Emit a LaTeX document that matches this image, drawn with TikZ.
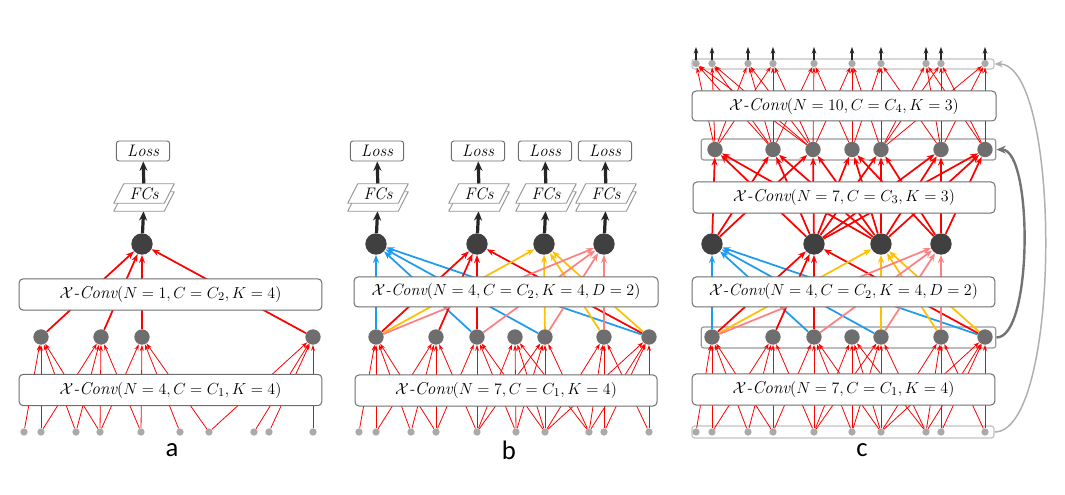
\documentclass[tikz,border=0pt]{standalone}
\usepackage{fontspec}
\newfontfamily\lblfont{Carlito}
\usetikzlibrary{arrows.meta}
\definecolor{inpc}{RGB}{170,170,170}
\definecolor{midc}{RGB}{110,110,110}
\definecolor{drkc}{RGB}{64,64,64}
\definecolor{boxc}{RGB}{110,110,110}
\definecolor{fcc}{RGB}{150,150,150}
\definecolor{grc}{RGB}{195,195,195}
\definecolor{dgc}{RGB}{115,115,115}
\definecolor{lgc}{RGB}{175,175,175}
\definecolor{bluec}{RGB}{30,155,240}
\definecolor{yelc}{RGB}{255,192,0}
\definecolor{pinkc}{RGB}{255,128,128}
\newcommand\xconv[1]{$\mathcal{X}$\textit{-}$\mathit{Conv}(#1)$}
\newcommand\fcshape[1]{%
  \filldraw[fcpath] (#1.south west) -- ([xshift=-7.5pt]#1.south east) -- (#1.north east) -- ([xshift=7.5pt]#1.north west) -- cycle;}
\pgfdeclarelayer{bg}
\pgfdeclarelayer{edges}
\pgfsetlayers{bg,edges,main}
\begin{document}
\begin{tikzpicture}[x=0.75pt,y=-0.75pt,
  inp/.style={circle,fill=inpc,inner sep=0,minimum size=5.5pt},
  mid/.style={circle,fill=midc,inner sep=0,minimum size=11.5pt},
  drk/.style={circle,fill=drkc,inner sep=0,minimum size=16pt},
  conv/.style={draw=boxc,line width=0.75pt,rounded corners=3pt,fill=white,inner sep=0,font=\fontsize{12.9}{15}\selectfont},
  convd/.style={conv,font=\fontsize{12.2}{15}\selectfont},
  grect/.style={draw=grc,line width=0.9pt,rounded corners=2pt,inner sep=0},
  lossbox/.style={draw=boxc,line width=0.7pt,rounded corners=2pt,fill=white,minimum width=40pt,minimum height=15pt,inner sep=0,font=\fontsize{12.5}{14}\selectfont},
  fcnode/.style={rectangle,inner sep=0,minimum width=45pt,minimum height=14.2pt,font=\fontsize{12.5}{14}\selectfont},
  fcpath/.style={draw=fcc,fill=white,line width=0.7pt,line join=round},
  thn/.style={red,line width=0.6pt,-{Stealth[length=4.5pt,width=3pt]}},
  thk/.style={line width=1.3pt,-{Stealth[length=6pt,width=4.5pt]}},
  blk/.style={black!85,line width=2.4pt,-{Stealth[length=7pt,width=6pt]}},
  blkthin/.style={black!85,line width=0.9pt,-{Stealth[length=5pt,width=3.5pt]}},
  lbl/.style={font=\lblfont\fontsize{20}{24}\selectfont}
]
\begin{pgfonlayer}{bg}
\fill[white] (0,0) rectangle (1065,495);
\end{pgfonlayer}
\useasboundingbox (0,0) rectangle (1065,495);

% ================= panel a =================
\foreach \x [count=\i] in {24,41,76,100,141,180,209,254,269,313} \node[inp] (a-i\i) at (\x,432) {};
\foreach \x [count=\i] in {41,101,142,313} \node[mid] (a-m\i) at (\x,337) {};
\node[drk] (a-t) at (142,244) {};
\node[fcnode] (a-fcb) at (144,201.5) {};
\fcshape{a-fcb}
\node[fcnode] (a-fc) at (144,193.5) {};
\fcshape{a-fc}
\node[fcnode] at (a-fc) {$\mathit{FCs}$};
\node[lossbox] (a-loss) at (143,151) {$\mathit{Loss}$};
\node[conv,minimum width=227pt,minimum height=23.5pt] (a-c1) at (170.5,390) {\xconv{N=4,C=C_1,K=4}};
\node[conv,minimum width=227pt,minimum height=23.5pt] (a-c2) at (170.5,294.5) {\xconv{N=1,C=C_2,K=4}};
\node[lbl] (la) at (172,450) {a};
\begin{pgfonlayer}{edges}
\foreach \m/\lst in {1/{1,2,3,4},2/{2,3,4,5},3/{4,5,6,7},4/{7,8,9,10}}
  \foreach \i in \lst \draw[thn] (a-i\i) -- (a-m\m);
\foreach \m in {1,...,4} \draw[thk,red] (a-m\m) -- (a-t);
\draw[blk] (a-t) -- (a-fcb);
\draw[blk] (a-fc) -- (a-loss);
\end{pgfonlayer}

% ================= panel b =================
\foreach \x [count=\i] in {359,376,411,436,477,516,545,589,604,649} \node[inp] (b-i\i) at (\x,432) {};
\foreach \x [count=\i] in {376,436,477,515,545,604,649} \node[mid] (b-m\i) at (\x,337) {};
\foreach \x [count=\i] in {376,477,544,604} {
  \node[drk] (b-t\i) at (\x,244) {};
  \node[fcnode] (b-fcb\i) at (\x+2,201.5) {};
  \fcshape{b-fcb\i}
  \node[fcnode] (b-fc\i) at (\x+2,193.5) {};
  \fcshape{b-fc\i}
  \node[fcnode] at (b-fc\i) {$\mathit{FCs}$};
  \node[lossbox] (b-loss\i) at (\x+1,151) {$\mathit{Loss}$};
}
\node[conv,minimum width=226.5pt,minimum height=23.3pt] (b-c1) at (506,390.5) {\xconv{N=7,C=C_1,K=4}};
\node[convd,minimum width=228pt,minimum height=22.5pt] (b-c2) at (506,292) {\xconv{N=4,C=C_2,K=4,D=2}};
\node[lbl] (lb) at (509,450) {b};
\begin{pgfonlayer}{edges}
\foreach \m/\lst in {1/{1,2,3,4},2/{2,3,4,5},3/{4,5,6,7},4/{5,6,7,8},5/{5,6,7,8},6/{7,8,9,10},7/{7,8,9,10}}
  \foreach \i in \lst \draw[thn] (b-i\i) -- (b-m\m);
\foreach \i in {1,3,5,7} \draw[thk,bluec] (b-m\i) -- (b-t1);
\foreach \i in {1,2,3,7} \draw[thk,red] (b-m\i) -- (b-t2);
\foreach \i in {1,5,6,7} \draw[thk,yelc] (b-m\i) -- (b-t3);
\foreach \i in {1,3,5,6} \draw[thk,pinkc] (b-m\i) -- (b-t4);
\foreach \i in {1,...,4} {
  \draw[blk] (b-t\i) -- (b-fcb\i);
  \draw[blk] (b-fc\i) -- (b-loss\i);
}
\end{pgfonlayer}

% ================= panel c =================
\foreach \x [count=\i] in {696,712,748,773,814,852,881,926,941,985} {
  \node[inp] (c-i\i) at (\x,432) {};
  \node[inp] (c-t\i) at (\x,63.5) {};
  \coordinate (c-u\i) at (\x,47);
}
\foreach \x [count=\i] in {712,773,814,852,881,941,985} \node[mid] (c-m\i) at (\x,337) {};
\foreach \x [count=\i] in {712,814,881,941} \node[drk] (c-d\i) at (\x,244) {};
\foreach \x [count=\i] in {715,773,813,852,881,941,985} \node[mid] (c-s\i) at (\x,149.5) {};
\node[conv,minimum width=227pt,minimum height=23.3pt] (c-c1) at (843.5,389.5) {\xconv{N=7,C=C_1,K=4}};
\node[convd,minimum width=227pt,minimum height=22.5pt] (c-c2) at (843.5,292) {\xconv{N=4,C=C_2,K=4,D=2}};
\node[conv,minimum width=226.5pt,minimum height=23.3pt] (c-c3) at (844,197.5) {\xconv{N=7,C=C_3,K=3}};
\node[conv,minimum width=228pt,minimum height=22.5pt] (c-c4) at (844,106) {\xconv{N=10,C=C_4,K=3}};
\node[lbl] (lc) at (862,450) {c};
\begin{pgfonlayer}{bg}
\node[grect,minimum width=226.5pt,minimum height=9pt] (c-rb) at (843,432) {};
\node[grect,draw=boxc!70,minimum width=221pt,minimum height=15.8pt] (c-rm) at (848.5,337.5) {};
\node[grect,draw=boxc!70,minimum width=221pt,minimum height=15.8pt] (c-rs) at (848.5,149.5) {};
\node[grect,minimum width=226.5pt,minimum height=7.5pt] (c-rt) at (843,64) {};
\end{pgfonlayer}
\begin{pgfonlayer}{edges}
\foreach \m/\lst in {1/{1,2,3,4},2/{2,3,4,5},3/{4,5,6,7},4/{5,6,7,8},5/{5,6,7,8},6/{7,8,9,10},7/{7,8,9,10}}
  \foreach \i in \lst \draw[thn] (c-i\i) -- (c-m\m);
\foreach \i in {1,3,5,7} \draw[thk,bluec] (c-m\i) -- (c-d1);
\foreach \i in {1,2,3,7} \draw[thk,red] (c-m\i) -- (c-d2);
\foreach \i in {1,5,6,7} \draw[thk,yelc] (c-m\i) -- (c-d3);
\foreach \i in {1,3,5,6} \draw[thk,pinkc] (c-m\i) -- (c-d4);
\foreach \s/\lst in {1/{1,2,3},2/{1,2,3},3/{1,2,3},4/{2,3,4},5/{2,3,4},6/{2,3,4},7/{2,3,4}}
  \foreach \i in \lst \draw[thk,red] (c-d\i) -- (c-s\s);
\foreach \t/\lst in {1/{1,2,3},2/{1,2,3},3/{1,2,3},4/{1,2,3},5/{2,3,4},6/{3,4,5},7/{4,5,6},8/{5,6,7},9/{5,6,7},10/{5,6,7}}
  \foreach \i in \lst \draw[thn] (c-s\i) -- (c-t\t);
\foreach \i in {1,...,10} \draw[blkthin] (c-t\i) -- (c-u\i);
\end{pgfonlayer}
\draw[dgc,line width=1.8pt,-{Stealth[length=7pt,width=6pt]}] (c-rm.east) .. controls (1033,338) and (1033,150) .. (c-rs.east);
\draw[lgc,line width=1.1pt,-{Stealth[length=6pt,width=5pt]}] (c-rb.east) .. controls (1062,432) and (1062,64) .. (c-rt.east);
\end{tikzpicture}
\end{document}
